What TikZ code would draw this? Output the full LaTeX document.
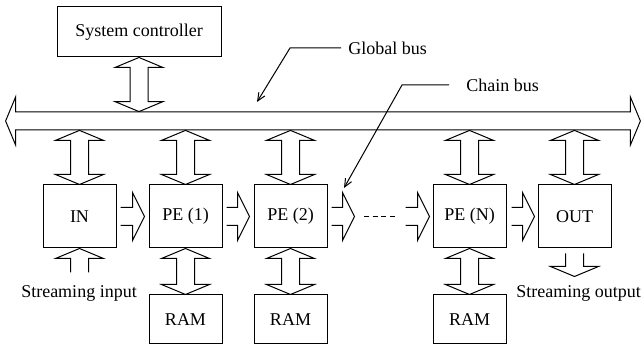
\documentclass[tikz,border=0pt]{standalone}
\usepackage{fontspec}
\setmainfont{Liberation Serif}
\usepackage{tikz}
\usetikzlibrary{arrows.meta,positioning,calc}

% sizes of the hollow block arrows
\newcommand{\fathw}{12pt}  % half width of the head
\newcommand{\fatsw}{4.5pt} % half width of the shaft
\newcommand{\fathl}{5pt}   % length of the head

% vertical double arrow, tips at #1 (top) and #2 (bottom)
\newcommand{\vdblarrow}[2]{%
  \draw[fat] let \p1=(#1), \p2=(#2) in
    (\x1,\y1) -- (\x1+\fathw,\y1-\fathl) -- (\x1+\fatsw,\y1-\fathl)
    -- (\x1+\fatsw,\y2+\fathl) -- (\x1+\fathw,\y2+\fathl) -- (\x1,\y2)
    -- (\x1-\fathw,\y2+\fathl) -- (\x1-\fatsw,\y2+\fathl)
    -- (\x1-\fatsw,\y1-\fathl) -- (\x1-\fathw,\y1-\fathl) -- cycle;}

% horizontal double arrow, tips at #1 (left) and #2 (right)
\newcommand{\hdblarrow}[2]{%
  \draw[fat] let \p1=(#1), \p2=(#2) in
    (\x1,\y1) -- (\x1+\fathl,\y1+\fathw) -- (\x1+\fathl,\y1+\fatsw)
    -- (\x2-\fathl,\y1+\fatsw) -- (\x2-\fathl,\y1+\fathw) -- (\x2,\y1)
    -- (\x2-\fathl,\y1-\fathw) -- (\x2-\fathl,\y1-\fatsw)
    -- (\x1+\fathl,\y1-\fatsw) -- (\x1+\fathl,\y1-\fathw) -- cycle;}

% single arrow pointing right, open tail at #1, tip at #2
\newcommand{\hsglarrow}[2]{%
  \draw[fat] let \p1=(#1), \p2=(#2) in
    (\x1,\y1+\fatsw) -- (\x2-6pt,\y1+\fatsw) -- (\x2-6pt,\y1+\fathw) -- (\x2,\y1)
    -- (\x2-6pt,\y1-\fathw) -- (\x2-6pt,\y1-\fatsw) -- (\x1,\y1-\fatsw);}

% single vertical arrow, open tail at #1, tip at #2
\newcommand{\vsglarrow}[2]{%
  \draw[fat] let \p1=(#1), \p2=(#2), \n1={sign(\y1-\y2)} in
    (\x1+\fatsw,\y1) -- (\x1+\fatsw,\y2+\n1*\fathl) -- (\x1+\fathw,\y2+\n1*\fathl)
    -- (\x1,\y2) -- (\x1-\fathw,\y2+\n1*\fathl) -- (\x1-\fatsw,\y2+\n1*\fathl)
    -- (\x1-\fatsw,\y1);}

\tikzset{
  blk/.style={draw, line width=0.5pt, minimum width=36.5pt, minimum height=31.5pt, inner sep=0pt},
  ram/.style={blk, minimum height=24.5pt},
  fat/.style={line width=0.5pt, line join=miter},
  lead/.style={-{Straight Barb[length=4pt,width=3.5pt]}, line width=0.5pt},
}

\begin{document}
\begin{tikzpicture}[x=0.5pt, y=-0.5pt, font=\fontsize{9}{11}\selectfont, node distance=15.5pt]
  \useasboundingbox (0,0) rectangle (642,346);

  % controller and global bus
  \node[blk, minimum width=82pt, minimum height=25pt] (ctrl) at (139,32) {System controller};
  \node[minimum width=317pt, minimum height=9pt, inner sep=0pt] (bus) at (323,121) {};
  \hdblarrow{bus.west}{bus.east}
  \vdblarrow{ctrl.south}{ctrl.south |- bus.north}

  % processing chain
  \node[blk] (in) at (79.5,216.5) {IN};
  \node[blk, right=16pt of in] (pe1) {PE (1)};
  \node[blk, right=of pe1] (pe2) {PE (2)};
  \node[blk, right=52.5pt of pe2] (peN) {PE (N)};
  \node[blk, right=of peN] (out) {OUT};

  % local memories
  \node[ram, below=23pt of pe1] (ram1) {RAM};
  \node[ram, below=23pt of pe2] (ram2) {RAM};
  \node[ram, below=23pt of peN] (ramN) {RAM};

  \foreach \b in {in,pe1,pe2,peN,out}
    \vdblarrow{\b.north |- bus.south}{\b.north};
  \foreach \b in {1,2,N}
    \vdblarrow{pe\b.south}{ram\b.north};

  % chain bus
  \hsglarrow{$(in.east)+(4,0)$}{$(pe1.west)+(-4,0)$}
  \hsglarrow{$(pe1.east)+(4,0)$}{$(pe2.west)+(-4,0)$}
  \hsglarrow{$(pe2.east)+(4,0)$}{$(pe2.east)+(27,0)$}
  \draw[line width=0.5pt, dash pattern=on 2.6pt off 1.7pt]
    ($(pe2.east)+(36.5,0)$) -- ($(peN.west)+(-37,0)$);
  \hsglarrow{$(peN.west)+(-27,0)$}{$(peN.west)+(-3,0)$}
  \hsglarrow{$(peN.east)+(5,0)$}{$(out.west)+(-3,0)$}

  % streaming in and out
  \node (sin) at (79,293) {Streaming input};
  \node (sout) at (578.5,293) {Streaming output};
  \vsglarrow{$(in.south)+(0,24)$}{in.south}
  \vsglarrow{$(out.south)+(0,5)$}{$(out.south)+(0,28)$}

  % labels
  \node (gbus) at (387.5,48) {Global bus};
  \node (cbus) at (502.5,85) {Chain bus};
  \coordinate (gbknee) at (290,48);
  \coordinate (gbtip) at (257,102);
  \coordinate (cbknee) at (402,85);
  \coordinate (cbtip) at (344,188);
  \draw[lead] (gbus.west) -- (gbknee) -- (gbtip);
  \draw[lead] ($(cbus.west)+(-10,0)$) -- (cbknee) -- (cbtip);
\end{tikzpicture}
\end{document}
